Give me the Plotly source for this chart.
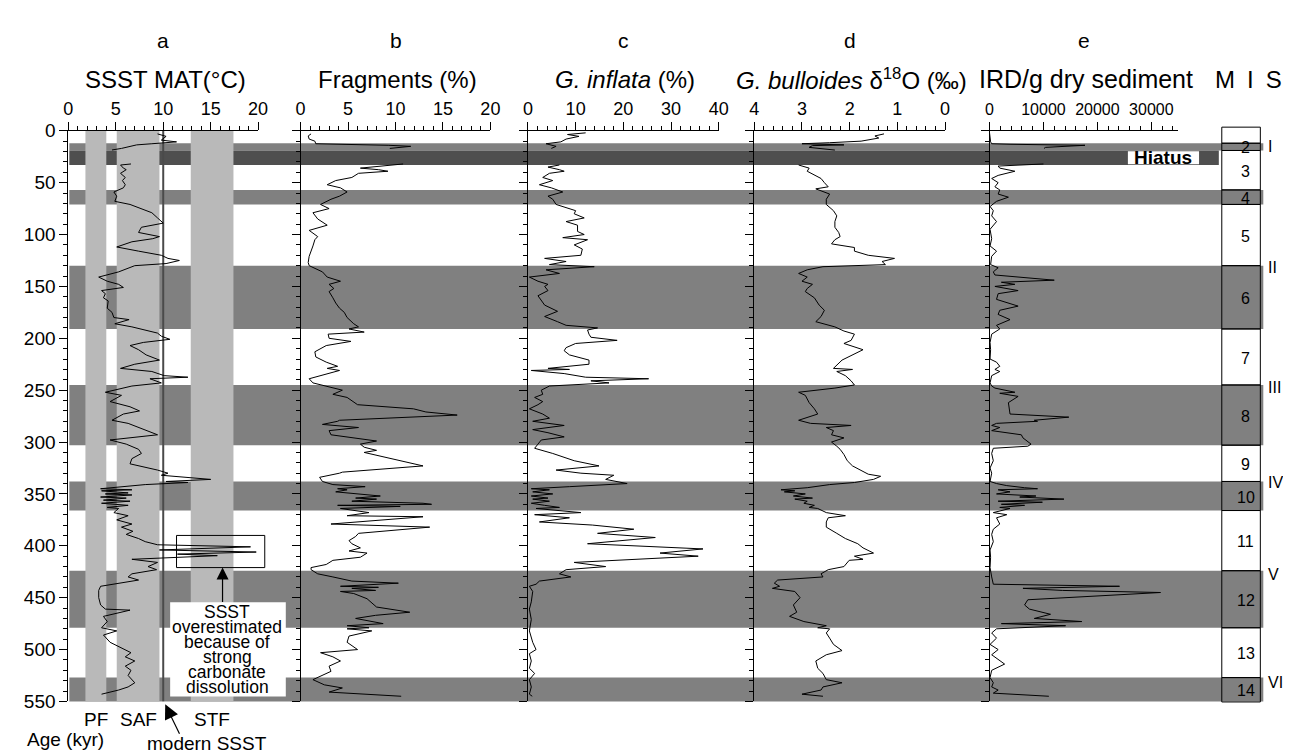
import plotly.graph_objects as go

W, H = 1291, 755
FONT = "Liberation Sans, Arial, Helvetica, sans-serif"

# ---------------- data (age in kyr, value) ----------------
sst_pts = [(3,9.4),(5.4,10.3),(9,9.8),(10.7,11.4),(12.5,8.8),(13.6,7.2),(17,5.6),(18.5,4.6),(25,None),
 (32,6.6),(33,5.5),(36,5.8),(37.5,6.1),(41,5.5),(45,6.0),(48,5.7),(52,6.0),(55,5.8),(59,4.8),(63,5.1),(68,4.9),
 (71,6.5),(75,7.7),(79,8.8),(84,9.4),(89,10.0),(93,7.7),(98,7.4),(102,9.6),(104,8.9),(107,6.7),(112,5.1),(116,7.4),
 (120,9.8),(123,10.5),(125,11.7),(128,10.3),(130,7.0),(136,5.3),(141,3.2),(145,4.1),(148,5.3),(151,5.8),(154,3.5),
 (157,3.9),(161,3.7),(164,4.2),(171,4.1),(175,4.6),(180,4.8),(182,6.4),(186,4.9),(189,6.7),(192,8.1),(195,9.4),
 (198,9.8),(201,10.7),(204,7.9),(207,6.5),(211,7.4),(216,8.2),(221,9.6),(225,7.0),(229,5.5),(232,8.8),(236,10.1),
 (237.5,12.6),(239,8.6),(243,9.8),(246,6.7),(252,3.9),(255,5.6),(261,4.4),(266,6.5),(270,7.5),(273,5.8),(279,4.6),
 (282,6.3),(288,8.1),(293,9.4),(298,4.4),(302,6.1),(307,7.4),(311,7.7),(316,6.7),(321,6.5),(327,9.4),(330,10.5),
 (332,9.8),(334,12.7),(336,15.0),(338,10.3),(339,12.6),(341,8.1),(343,5.3),(345,3.4),(346,6.7),(347,3.5),(349,6.3),
 (350,3.9),(351,6.7),(353,3.4),(354,6.1),(356,3.7),(357,6.5),(359,3.5),(361,6.3),(363,4.1),(364,5.3),(368,4.8),
 (371,6.3),(375,5.1),(379,6.7),(382,5.6),(386,6.8),(389,6.1),(393,7.4),(396,8.1),(399,9.4),(401,19.2),(404,9.6),
 (406,19.8),(408,11.5),(409.5,15.7),(413,6.7),(416,9.4),(420,8.4),(423,9.3),(427,6.7),(430,6.3),(433,7.4),(436,5.3),
 (439,3.4),(443,3.2),(450,3.2),(457,3.4),(461,3.9),(462,6.5),(468,3.7),(473,4.1),(479,3.5),(482,5.1),(486,3.7),
 (493,4.4),(500,6.0),(503,6.6),(507,6.0),(511,7.0),(516,6.0),(520,6.6),(525,6.3),(532,7.0),(536,6.3),(539,5.3),(543,3.5)]

frag_pts = [(3,1.1),(5,0.8),(8,0.9),(10,1.5),(12.5,1.6),(13,4.7),(14,9.3),(15,11.6),(17,9.4),(25,None),(32,10.8),
 (36,6.3),(37.5,8.2),(39,9.2),(41,6.1),(45,5.4),(48,3.7),(52,2.8),(55,4.2),(59,4.9),(63,4.1),(66,3.2),(71,2.1),
 (75,3.0),(79,1.3),(85,1.8),(91,2.8),(96,0.9),(102,1.8),(105,1.5),(111,1.3),(116,1.1),(121,0.9),(127,0.8),(130,0.9),
 (136,2.3),(141,2.8),(145,4.2),(148,3.0),(152,3.5),(155,3.0),(161,3.4),(166,3.7),(171,4.1),(175,4.6),(180,4.9),
 (186,5.6),(189,6.1),(191,5.1),(194,6.7),(196,2.9),(200,3.0),(203,5.3),(207,2.7),(213,1.5),(218,1.6),(223,2.7),
 (227,3.9),(229,2.8),(231,4.1),(236,2.0),(239,0.9),(243,1.3),(246,2.7),(250,4.4),(254,3.4),(257,4.9),(264,6.0),
 (266,9.3),(268,11.9),(271,13.2),(274,16.5),(279,4.1),(280,3.9),(283,2.3),(286,6.1),(289,3.0),(293,3.2),(299,8.0),
 (302,6.3),(305,6.7),(308,8.0),(310,6.7),(316,9.6),(323,12.9),(329,4.4),(330,4.1),(334,2.0),(338,2.3),(341,3.4),
 (343,6.8),(345,3.9),(346,4.9),(348,3.7),(350,5.8),(352,8.4),(354,5.8),(355,8.0),(357,5.4),(359,12.9),(360,13.8),
 (361,3.9),(362,10.5),(364,4.2),(368,7.2),(371,4.9),(372,12.9),(379,3.2),(382,13.6),(388,6.1),(391,5.8),(395,5.1),
 (398,5.4),(402,6.3),(405,5.1),(407,7.0),(411,6.3),(414,3.4),(418,2.7),(421,1.1),(423,1.1),(427,1.8),(430,3.4),
 (434,5.4),(436,10.3),(439,4.2),(440,8.2),(441,5.4),(443,7.9),(444,4.2),(446,5.6),(451,7.0),(459,8.0),(464,11.5),
 (467,7.9),(470,5.8),(475,8.7),(477,4.9),(479,7.2),(480,4.9),(482,7.5),(487,5.1),(493,4.9),(500,6.0),(503,2.1),
 (507,3.4),(511,4.2),(516,3.0),(521,3.2),(529,1.3),(534,2.5),(537,4.4),(541,3.0),(545,10.6)]

infl_pts = [(2,12.1),(3.6,8.3),(5.4,10.7),(8,8.0),(10.7,6.9),(12.5,3.8),(15,5.9),(17,4.9),(25,None),(33,6.6),
 (35,4.2),(37.5,6.6),(39,7.6),(41,4.5),(45,3.1),(48,5.2),(52,2.4),(55,4.9),(59,7.3),(63,4.2),(66,5.2),(71,5.9),
 (77,10.0),(80,9.7),(84,11.8),(87.5,8.0),(91,10.4),(97,10.4),(100,11.8),(103,7.3),(105,12.5),(110,9.7),(114,11.4),
 (120,11.1),(123,3.5),(126,8.0),(129,4.5),(131,13.9),(134,3.8),(137.5,6.6),(141,0.3),(145,2.1),(148,4.2),(150,3.5),
 (154,4.2),(159,2.1),(164,2.8),(168,3.5),(174,6.2),(179,3.5),(184,6.2),(187.5,8.0),(190,14.6),(192,12.5),(196,12.8),
 (199,13.2),(202,18.7),(205,10.0),(209,8.0),(212,7.6),(216,8.7),(221,12.8),(225,12.8),(229,4.2),(230,8.7),(231,0.7),
 (234,7.6),(237.5,12.1),(239,25.3),(241,13.2),(243,17.0),(246,4.5),(250,2.8),(254,3.1),(257,1.4),(261,3.1),(264,2.1),
 (268,0.3),(273,3.1),(277,4.5),(280,1.0),(284,7.6),(288,1.0),(291,4.2),(295,7.6),(298,2.8),(302,2.1),(306,1.4),
 (311,5.2),(318,9.7),(323,14.9),(327,5.9),(330,11.1),(332,18.0),(336,16.3),(340,20.8),(343,8.7),(345,0.7),(346,4.5),
 (348,1.0),(350,5.2),(352,0.7),(354,4.2),(355,1.0),(357,4.5),(359,0.7),(361,3.5),(363,6.6),(364,1.7),(368,11.1),
 (370,1.4),(373,8.7),(377,2.4),(380,13.5),(384,22.2),(388,14.6),(392,26.7),(398,12.5),(403,36.7),(407,27.7),
 (410,35.7),(413,21.1),(416,9.7),(420,16.3),(423,8.0),(427,6.6),(430,9.0),(434,2.4),(437,1.7),(439,0.3),(444,1.0),
 (454,0.7),(461,0.3),(471,0.7),(482,0.3),(493,1.0),(500,1.7),(504,0.3),(511,0.7),(518,0.3),(523,1.4),(529,0.3),
 (536,0.7),(543,0.3),(545,0.9)]

d18o_pts = [(3,1.28),(5,1.47),(7,1.39),(10,1.76),(11.5,2.42),(12.5,3.0),(13.6,2.12),(14.3,2.78),(16,2.85),(18.6,2.31),
 (25,None),(33,3.07),(36,2.85),(39,2.89),(43,2.71),(46,2.60),(50,2.53),(54,2.45),(56,2.71),(61,2.42),(66,2.49),
 (71,2.49),(77,2.34),(82,2.27),(87.5,2.31),(93,2.31),(98,2.23),(102,2.20),(105,2.31),(109,2.38),(112.5,1.90),
 (116,1.90),(120,1.61),(123,1.06),(126,1.32),(129,1.25),(131,2.56),(134,2.89),(137.5,3.07),(141,2.89),(145,3.0),
 (148,2.78),(152,2.89),(155,2.93),(161,2.74),(168,2.64),(173,2.53),(179,2.60),(184,2.71),(189,2.31),(193,2.12),
 (196,1.90),(202,1.97),(205,2.12),(211,1.72),(216,1.94),(221,2.16),(229,2.34),(230,1.94),(232,2.27),(236,2.09),
 (241,1.97),(245,1.90),(248,2.31),(252,3.07),(255,2.93),(262,2.85),(268,2.74),(273,2.67),(279,3.07),(282,2.82),
 (284,1.97),(286,2.49),(289,2.34),(293,2.38),(296,2.12),(300,2.38),(304,2.27),(307,2.20),(312,2.12),(318,2.05),
 (323,1.94),(329,1.69),(331,1.61),(333,1.35),(336,1.50),(339,1.90),(341,2.42),(344,2.89),(346,3.44),(347,3.15),
 (348,3.37),(350,2.93),(352,3.18),(354,2.78),(355,3.15),(357,2.89),(359,2.96),(361,2.74),(363,2.85),(364,2.67),
 (368,2.49),(371,2.09),(373,2.45),(377,2.49),(382,2.49),(388,2.27),(393,2.09),(398,1.83),(402,1.72),(407,1.50),
 (410,1.90),(413,1.72),(414,2.01),(420,2.12),(423,2.45),(427,2.60),(430,2.56),(433,3.51),(436,3.58),(439,3.47),
 (441,3.62),(444,3.15),(450,3.04),(457,3.18),(464,3.11),(468,3.26),(473,2.96),(477,2.49),(479,2.67),(480,2.42),
 (484,2.49),(489,2.42),(495,2.34),(501,2.16),(505,2.49),(511,2.71),(518,2.67),(523,2.56),(529,2.49),(532,2.16),
 (536,2.56),(539,2.60),(543,3.0),(545,2.56)]

ird_pts = [(2,0),(10.7,200),(12.5,400),(13,3800),(14,17700),(16,10400),(17,10100),(25,None),(32,10000),(34,1600),
 (36,1900),(39,4700),(43,1600),(46,400),(50,1600),(54,1000),(57,1900),(61,1600),(64,3500),(68,1300),(73,100),
 (77,700),(82,400),(87.5,1300),(95,100),(104,400),(111,100),(116,1300),(121,400),(129,200),(132,1600),(136,700),
 (139,1000),(144,12000),(146,2200),(148,4700),(150,1000),(154,5300),(157,1600),(162.5,1300),(169,5300),(173,1900),
 (177,1600),(182,3800),(187.5,1300),(191,1900),(196,400),(204,100),(211,200),(220,100),(223,1300),(227,1900),
 (230,1000),(232,1900),(236,400),(243,100),(246,400),(248,1000),(252,4700),(253,1900),(256,5300),(262,3500),
 (273,3800),(276,14700),(279,8300),(280,8900),(282,1300),(284,400),(286,1900),(289,400),(293,5900),(296,6200),
 (302,7700),(304,7100),(306,700),(311,400),(318,700),(325,100),(330,400),(338,100),(340,1300),(342,3200),(344,6500),
 (345,8900),(346,1600),(348,3800),(350,1300),(352,8600),(353,5600),(355,13800),(357,1600),(358,9800),(360,2200),
 (361,6500),(363,1900),(364,3800),(368,700),(370,3200),(373,1300),(379,1900),(384,700),(389,400),(396,700),
 (404,100),(411,200),(421,100),(430,400),(434,600),(437,700),(439,24100),(441,6200),(443,13500),(445,31700),
 (452,7100),(457,6500),(461,7400),(466,11300),(470,8300),(473,17100),(475,2200),(477,14100),(480,1300),(484,400),
 (489,1300),(495,100),(500,1600),(505,400),(514,2800),(520,400),(527,100),(532,700),(536,400),(539,1600),
 (542,700),(545,11000)]

# Marine isotope stages (kyr)
mis_stage = list(range(1, 15))
mis_top = [-3.5, 12, 19, 57, 71, 130, 191, 245, 303, 338, 366, 424, 479, 527]
mis_bot = [12, 19, 57, 71, 130, 191, 245, 303, 338, 366, 424, 479, 527, 550.5]
hiatus = (19, 33)
term_labels = ["I", "II", "III", "IV", "V", "VI"]
term_ages = [15, 132, 247, 339, 428, 532]

# Southern Ocean fronts (°C) and modern SSST
front_names = ["PF", "SAF", "STF"]
front_lo = [1.8, 5.1, 12.9]
front_hi = [4.0, 9.6, 17.4]
modern_sst = 10.0
overest_box = (11.4, 20.7, 390, 421)  # °C range, kyr range

ird_ticks = [0, 10000, 20000, 30000]


# ---------------- layout geometry (pixels) ----------------
def px_x(p):
    return p / W


def px_y(p):
    return 1 - p / H


YD = [px_y(703), px_y(116)]

panels = [
    dict(k="", dom=(56, 248), rng=[0, 20], dt=5, mn=1, letter="a", title="SSST MAT(°C)", pts=sst_pts, fs=18, ts=24),
    dict(k="2", dom=(291, 483), rng=[0, 20], dt=5, mn=1, letter="b", title="Fragments (%)", pts=frag_pts, fs=18, ts=24),
    dict(k="3", dom=(521, 714), rng=[0, 40], dt=10, mn=2, letter="c", title="<i>G. inflata</i> (%)", pts=infl_pts,
         fs=18, ts=24),
    dict(k="4", dom=(750, 943), rng=[4, 0], dt=1, mn=0.2, letter="d",
         title="<i>G. bulloides</i> δ<sup>18</sup>O (‰)", pts=d18o_pts, fs=18, ts=24),
    dict(k="5", dom=(988, 1179), rng=[0, 35000], dt=10000, mn=2000, letter="e", title="IRD/g dry sediment",
         pts=ird_pts, fs=16, ts=25),
]


def kyr_y(k):
    return YD[1] - k / 550 * (YD[1] - YD[0])


def val_x(panel, v):
    d0, d1 = panel["dom"]
    r0, r1 = panel["rng"]
    return px_x(d0 + (v - r0) / (r1 - r0) * (d1 - d0))


fig = go.Figure()
layout_axes = {}
for p in panels:
    k = p["k"]
    ages = [a for a, v in p["pts"]]
    vals = [v for a, v in p["pts"]]
    fig.add_trace(go.Scatter(x=vals, y=ages, xaxis="x" + k, yaxis="y" + k, mode="lines",
                             line=dict(color="black", width=1), connectgaps=False,
                             hoverinfo="skip", showlegend=False))
    xa = dict(
        domain=[px_x(p["dom"][0]), px_x(p["dom"][1])], range=p["rng"], side="top", anchor="y" + k,
        ticks="outside", ticklen=8, tickwidth=1, tickcolor="black",
        showline=True, linecolor="black", linewidth=1, showgrid=False, zeroline=False,
        tickfont=dict(size=p["fs"], color="black", family=FONT),
        minor=dict(ticks="outside", ticklen=4, tickwidth=1, tickcolor="black", dtick=p["mn"], tick0=0, showgrid=False),
        fixedrange=True)
    if k == "5":
        xa.update(tickmode="array", tickvals=ird_ticks, ticktext=[str(t) for t in ird_ticks])
    else:
        xa.update(tick0=0, dtick=p["dt"])
    layout_axes["xaxis" + k] = xa
    layout_axes["yaxis" + k] = dict(
        domain=YD, range=[550, 0], anchor="x" + k, tick0=0, dtick=50, ticks="outside", ticklen=8,
        tickwidth=1, tickcolor="black", showline=True, linecolor="black", linewidth=1,
        showgrid=False, zeroline=False, showticklabels=(k == ""),
        tickfont=dict(size=19, color="black", family=FONT),
        minor=dict(ticks="outside", ticklen=4, tickwidth=1, tickcolor="black", dtick=10, tick0=0, showgrid=False),
        fixedrange=True)

shapes = []
# glacial (even MIS) bands across all panels
for s, t, b in zip(mis_stage, mis_top, mis_bot):
    if s % 2 == 0:
        shapes.append(dict(type="rect", xref="paper", yref="y", x0=px_x(57), x1=px_x(1265), y0=t, y1=b,
                           fillcolor="#808080", line=dict(width=0), layer="below"))
# hiatus
shapes.append(dict(type="rect", xref="paper", yref="y", x0=px_x(57), x1=px_x(1220), y0=hiatus[0], y1=hiatus[1],
                   fillcolor="#4f4f4f", line=dict(width=0), layer="below"))
# fronts in panel a
for lo, hi in zip(front_lo, front_hi):
    shapes.append(dict(type="rect", xref="x", yref="y", x0=lo, x1=hi, y0=0, y1=550,
                       fillcolor="#b9b9b9", line=dict(width=0), layer="below"))
# modern SSST line
shapes.append(dict(type="line", xref="x", yref="y", x0=modern_sst, x1=modern_sst, y0=0, y1=550,
                   line=dict(color="#4a4a4a", width=2), layer="below"))
# box around overestimated values
pa = panels[0]
shapes.append(dict(type="rect", xref="paper", yref="y", x0=val_x(pa, overest_box[0]), x1=val_x(pa, overest_box[1]),
                   y0=overest_box[2], y1=overest_box[3], line=dict(color="black", width=1), layer="above"))
# white box behind explanation text
shapes.append(dict(type="rect", xref="paper", yref="paper", x0=px_x(159), x1=px_x(276), y0=px_y(698), y1=px_y(601),
                   fillcolor="white", line=dict(width=0), layer="above"))
# white box behind "Hiatus"
shapes.append(dict(type="rect", xref="paper", yref="y", x0=px_x(1128), x1=px_x(1200), y0=hiatus[0] + 0.8,
                   y1=hiatus[1] - 0.8, fillcolor="white", line=dict(width=0), layer="above"))
# MIS column boxes
for s, t, b in zip(mis_stage, mis_top, mis_bot):
    shapes.append(dict(type="rect", xref="paper", yref="paper", x0=px_x(1223), x1=px_x(1262),
                       y0=kyr_y(b), y1=kyr_y(t), line=dict(color="black", width=1), layer="above"))

ann = []


def txt(x, y, s, size=18, xanchor="center", yref="paper", bold=False, xref="paper"):
    ann.append(dict(x=x, y=y, xref=xref, yref=yref, text=("<b>%s</b>" % s) if bold else s, showarrow=False,
                    xanchor=xanchor, yanchor="middle", font=dict(size=size, color="black", family=FONT)))


for p in panels:
    cx = (p["dom"][0] + p["dom"][1]) / 2
    txt(px_x(cx), px_y(23), p["letter"], size=21)
    txt(px_x(cx + 2), px_y(63), p["title"], size=p["ts"])
txt(px_x(1250), px_y(63), "M\u2002I\u2002S", size=24)

for s, t, b in zip(mis_stage, mis_top, mis_bot):
    if s > 1:
        txt(px_x(1247), (t + b) / 2 + 1, str(s), size=16, yref="y")
for lab, a in zip(term_labels, term_ages):
    txt(px_x(1268), a, lab, size=16, xanchor="left", yref="y")

txt(px_x(1164), (hiatus[0] + hiatus[1]) / 2, "Hiatus", size=19, yref="y", bold=True)

# bottom labels
for name, lo, hi in zip(front_names, front_lo, front_hi):
    txt(val_x(pa, (lo + hi) / 2), px_y(722), name, size=19)
txt(px_x(53), px_y(742), "Age (kyr)", size=19)
txt(px_x(196), px_y(746), "modern SSST", size=19)

# explanation text
for i, line in enumerate(["SSST", "overestimated", "because of", "strong", "carbonate", "dissolution"]):
    txt(px_x(217), px_y(611 + 15.4 * i), line, size=17.5)

# arrows
ann.append(dict(x=px_x(212), y=overest_box[3], xref="paper", yref="y", text="", showarrow=True,
                ax=0, ay=36, arrowhead=2, arrowsize=2.0, arrowwidth=1.2, arrowcolor="black", standoff=0))
ann.append(dict(x=px_x(154), y=px_y(706), xref="paper", yref="paper", text="", showarrow=True,
                ax=15, ay=31, arrowhead=2, arrowsize=2.4, arrowwidth=1.2, arrowcolor="black", standoff=0))

fig.update_layout(width=W, height=H, margin=dict(l=0, r=0, t=0, b=0), paper_bgcolor="white",
                  plot_bgcolor="rgba(0,0,0,0)", showlegend=False, shapes=shapes, annotations=ann,
                  font=dict(family=FONT, color="black"), **layout_axes)

fig.write_html("out.html")
